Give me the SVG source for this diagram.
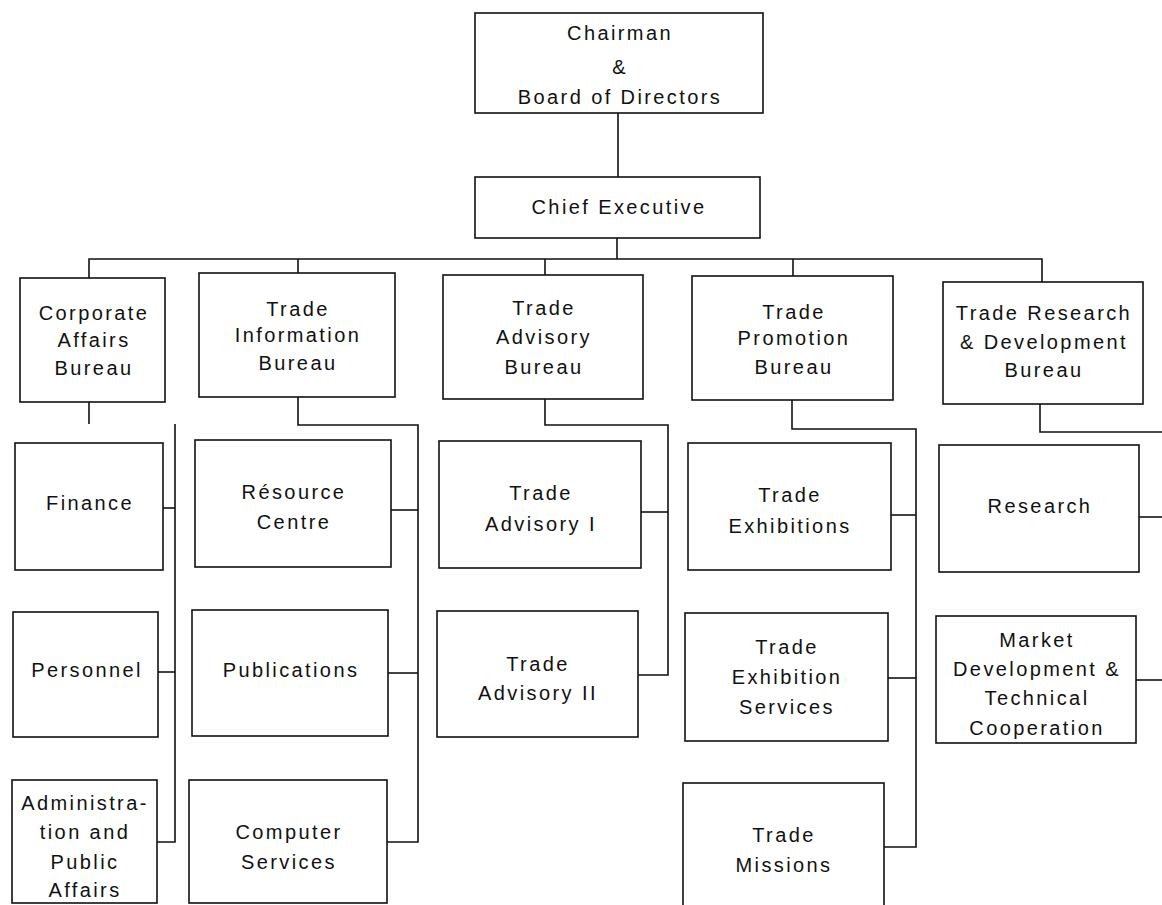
<svg xmlns="http://www.w3.org/2000/svg" width="1162" height="905" viewBox="0 0 1162 905">
<style>
.box{fill:#fff;stroke:#111;stroke-width:1.6}
.ln{fill:none;stroke:#111;stroke-width:1.6}
text{font-family:"Liberation Sans",Arial,sans-serif;font-size:20px;letter-spacing:2.4px;text-anchor:middle;fill:#111}
</style>
<rect width="1162" height="905" fill="#fff"/>
<g id="connectors">
<path class="ln" d="M618,113 V177"/>
<path class="ln" d="M617,238 V259"/>
<path class="ln" d="M89,278 V259 H1042 V282"/>
<path class="ln" d="M298,259 V273"/>
<path class="ln" d="M545,259 V275"/>
<path class="ln" d="M793,259 V276"/>
<path class="ln" d="M89,402 V424"/>
<path class="ln" d="M175,424 V842 H157"/>
<path class="ln" d="M163,508 H175"/>
<path class="ln" d="M158,672 H175"/>
<path class="ln" d="M298,397 V425 H418 V842 H387"/>
<path class="ln" d="M391,510 H418"/>
<path class="ln" d="M388,673 H418"/>
<path class="ln" d="M545,399 V425 H668 V675 H638"/>
<path class="ln" d="M641,512 H668"/>
<path class="ln" d="M792,400 V429 H916 V847 H884"/>
<path class="ln" d="M891,515 H916"/>
<path class="ln" d="M888,678 H916"/>
<path class="ln" d="M1040,404 V432 H1162"/>
<path class="ln" d="M1139,517 H1162"/>
<path class="ln" d="M1136,680 H1162"/>
</g>
<g id="chairman"><rect class="box" x="475" y="13" width="288" height="100"/>
<text x="620" y="40">Chairman</text><text x="620" y="74">&amp;</text><text x="620" y="104">Board of Directors</text></g>
<g id="chief-executive"><rect class="box" x="475" y="177" width="285" height="61"/>
<text x="619" y="214">Chief Executive</text></g>
<g id="corporate-affairs"><rect class="box" x="20" y="278" width="145" height="124"/>
<text x="94" y="320">Corporate</text><text x="94" y="347">Affairs</text><text x="94" y="375">Bureau</text></g>
<g id="trade-information"><rect class="box" x="199" y="273" width="196" height="124"/>
<text x="298" y="316">Trade</text><text x="298" y="342">Information</text><text x="298" y="370">Bureau</text></g>
<g id="trade-advisory"><rect class="box" x="443" y="275" width="200" height="124"/>
<text x="544" y="315">Trade</text><text x="544" y="344">Advisory</text><text x="544" y="374">Bureau</text></g>
<g id="trade-promotion"><rect class="box" x="692" y="276" width="201" height="124"/>
<text x="794" y="319">Trade</text><text x="794" y="345">Promotion</text><text x="794" y="374">Bureau</text></g>
<g id="trade-research"><rect class="box" x="943" y="282" width="200" height="122"/>
<text x="1044" y="320">Trade Research</text><text x="1044" y="349">&amp; Development</text><text x="1044" y="377">Bureau</text></g>
<g id="finance"><rect class="box" x="15" y="443" width="148" height="127"/>
<text x="90" y="510">Finance</text></g>
<g id="personnel"><rect class="box" x="13" y="612" width="145" height="125"/>
<text x="87" y="677">Personnel</text></g>
<g id="administration"><rect class="box" x="12" y="780" width="145" height="123"/>
<text x="85" y="810">Administra-</text><text x="85" y="839">tion and</text><text x="85" y="869">Public</text><text x="85" y="897">Affairs</text></g>
<g id="resource-centre"><rect class="box" x="195" y="440" width="196" height="127"/>
<text x="294" y="499">Résource</text><text x="294" y="529">Centre</text></g>
<g id="publications"><rect class="box" x="192" y="610" width="196" height="126"/>
<text x="291" y="677">Publications</text></g>
<g id="computer-services"><rect class="box" x="189" y="780" width="198" height="123"/>
<text x="289" y="839">Computer</text><text x="289" y="869">Services</text></g>
<g id="trade-advisory-1"><rect class="box" x="439" y="441" width="202" height="127"/>
<text x="541" y="500">Trade</text><text x="541" y="531">Advisory I</text></g>
<g id="trade-advisory-2"><rect class="box" x="437" y="611" width="201" height="126"/>
<text x="538" y="671">Trade</text><text x="538" y="700">Advisory II</text></g>
<g id="trade-exhibitions"><rect class="box" x="688" y="443" width="203" height="127"/>
<text x="790" y="502">Trade</text><text x="790" y="533">Exhibitions</text></g>
<g id="trade-exhibition-services"><rect class="box" x="685" y="613" width="203" height="128"/>
<text x="787" y="654">Trade</text><text x="787" y="684">Exhibition</text><text x="787" y="714">Services</text></g>
<g id="trade-missions"><rect class="box" x="683" y="783" width="201" height="130"/>
<text x="784" y="842">Trade</text><text x="784" y="872">Missions</text></g>
<g id="research"><rect class="box" x="939" y="445" width="200" height="127"/>
<text x="1040" y="513">Research</text></g>
<g id="market-development"><rect class="box" x="936" y="616" width="200" height="127"/>
<text x="1037" y="647">Market</text><text x="1037" y="676">Development &amp;</text><text x="1037" y="705">Technical</text><text x="1037" y="735">Cooperation</text></g>
</svg>
